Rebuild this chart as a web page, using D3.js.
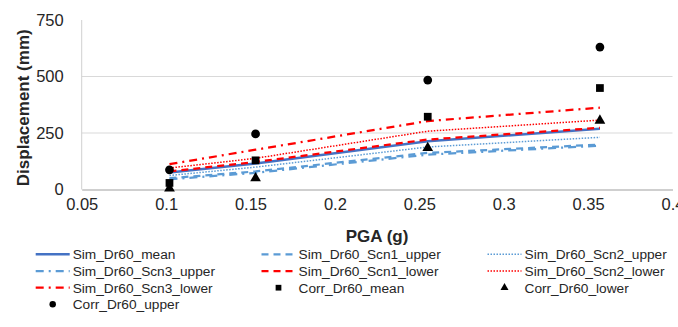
<!DOCTYPE html>
<html>
<head>
<meta charset="utf-8">
<script src="https://cdn.jsdelivr.net/npm/d3@7"></script>
<style>
  html, body { margin: 0; padding: 0; background: #fff; }
  svg { display: block; font-family: "Liberation Sans", Arial, sans-serif; }
</style>
</head>
<body>
<svg id="chart" width="678" height="327"></svg>
<script>
// ---- data ----
const pga = [0.102, 0.153, 0.255, 0.357];
const simMean      = [75, 115, 213, 269];
const simScn1Upper = [50, 80, 162, 199];
const simScn2Upper = [62, 99, 188, 231];
const simScn3Upper = [45, 74, 154, 194];
const simScn1Lower = [80, 122, 221, 273];
const simScn2Lower = [95, 138, 258, 307];
const simScn3Lower = [112, 176, 303, 362];
const corrMean  = [29, 129, 322, 449];
const corrLower = [5, 50, 184, 305];
const corrUpper = [87, 246, 484, 630];
const xTicks = [0.05, 0.1, 0.15, 0.2, 0.25, 0.3, 0.35, 0.4];
const yTicks = [0, 250, 500, 750];

const lineSeries = [
  {name: "Sim_Dr60_mean",       values: simMean,      color: "#4472C4", dash: null,       width: 2.5},
  {name: "Sim_Dr60_Scn1_upper", values: simScn1Upper, color: "#5B9BD5", dash: "7,5",      width: 2.25},
  {name: "Sim_Dr60_Scn2_upper", values: simScn2Upper, color: "#5B9BD5", dash: "1.5,1.5",  width: 1.5},
  {name: "Sim_Dr60_Scn3_upper", values: simScn3Upper, color: "#5B9BD5", dash: "8,5,2,5",  width: 2.25},
  {name: "Sim_Dr60_Scn1_lower", values: simScn1Lower, color: "#FF0000", dash: "7,5",      width: 2.25},
  {name: "Sim_Dr60_Scn2_lower", values: simScn2Lower, color: "#FF0000", dash: "1.5,1.5",  width: 1.5},
  {name: "Sim_Dr60_Scn3_lower", values: simScn3Lower, color: "#FF0000", dash: "8,5,2,5",  width: 2.25}
];
const markerSeries = [
  {name: "Corr_Dr60_mean",  values: corrMean,  symbol: d3.symbolSquare,   size: 60},
  {name: "Corr_Dr60_lower", values: corrLower, symbol: d3.symbolTriangle, size: 50},
  {name: "Corr_Dr60_upper", values: corrUpper, symbol: d3.symbolCircle,   size: 60}
];

// legend order (row-major, 3 columns)
const legendOrder = [
  "Sim_Dr60_mean", "Sim_Dr60_Scn1_upper", "Sim_Dr60_Scn2_upper",
  "Sim_Dr60_Scn3_upper", "Sim_Dr60_Scn1_lower", "Sim_Dr60_Scn2_lower",
  "Sim_Dr60_Scn3_lower", "Corr_Dr60_mean", "Corr_Dr60_lower",
  "Corr_Dr60_upper"
];

// ---- layout ----
const svg = d3.select("#chart");
const plotLeft = 81.7, plotRight = 672.5, plotTop = 20, plotBottom = 189.5;
const x = d3.scaleLinear().domain([0.05, 0.4]).range([plotLeft, plotRight]);
const y = d3.scaleLinear().domain([0, 750]).range([plotBottom, plotTop]);
const textColor = "#262626";

// gridlines
svg.append("g").selectAll("line")
  .data(yTicks.filter(t => t > 0 && t < 750))
  .join("line")
  .attr("x1", plotLeft).attr("x2", plotRight)
  .attr("y1", d => y(d)).attr("y2", d => y(d))
  .attr("stroke", "#D9D9D9").attr("stroke-width", 1);

// y axis line
svg.append("line")
  .attr("x1", plotLeft).attr("x2", plotLeft).attr("y1", plotTop).attr("y2", plotBottom)
  .attr("stroke", "#D0D0D0").attr("stroke-width", 1);

// x axis
const xAxis = d3.axisBottom(x).tickValues(xTicks).tickSize(0).tickPadding(9)
  .tickFormat(d => String(+d.toFixed(2)));
const gx = svg.append("g").attr("transform", `translate(0,${plotBottom})`).call(xAxis);
gx.select(".domain").attr("stroke", "#BFBFBF").attr("stroke-width", 1.5);
gx.selectAll("text").attr("font-size", 16.5).attr("fill", textColor)
  .attr("font-family", "Liberation Sans, Arial, sans-serif");

// y axis labels
const yAxis = d3.axisLeft(y).tickValues(yTicks).tickSize(0).tickPadding(18)
  .tickFormat(d3.format("d"));
const gy = svg.append("g").attr("transform", `translate(${plotLeft},0)`).call(yAxis);
gy.select(".domain").remove();
gy.selectAll("text").attr("font-size", 16.5).attr("fill", textColor)
  .attr("font-family", "Liberation Sans, Arial, sans-serif");

// axis titles
svg.append("text")
  .attr("x", (plotLeft + plotRight) / 2).attr("y", 242)
  .attr("text-anchor", "middle").attr("font-size", 17).attr("font-weight", "bold")
  .attr("fill", textColor).text("PGA (g)");
svg.append("text")
  .attr("transform", `translate(29,${(plotTop + plotBottom) / 2 + 3}) rotate(-90)`)
  .attr("text-anchor", "middle").attr("font-size", 17).attr("font-weight", "bold")
  .attr("fill", textColor).text("Displacement (mm)");

// lines
const lineGen = d3.line().x((d, i) => x(pga[i])).y(d => y(d));
const linesG = svg.append("g");
lineSeries.forEach(s => {
  linesG.append("path")
    .attr("d", lineGen(s.values))
    .attr("fill", "none")
    .attr("stroke", s.color)
    .attr("stroke-width", s.width)
    .attr("stroke-dasharray", s.dash);
});

// markers
const markG = svg.append("g");
markerSeries.forEach(s => {
  markG.selectAll(null).data(s.values).join("path")
    .attr("transform", (d, i) => `translate(${x(pga[i])},${y(d)})`)
    .attr("d", d3.symbol().type(s.symbol).size(s.size))
    .attr("fill", "#000");
});

// legend
const colText = [72.7, 298.5, 524.5];
const rowY = [254.3, 271, 287.7, 304.3];
const legG = svg.append("g");
legendOrder.forEach((name, idx) => {
  const col = idx % 3, row = Math.floor(idx / 3);
  const tx = colText[col], cy = rowY[row];
  const ls = lineSeries.find(s => s.name === name);
  const ms = markerSeries.find(s => s.name === name);
  if (ls) {
    legG.append("line")
      .attr("x1", tx - 37).attr("x2", tx - 3)
      .attr("y1", cy).attr("y2", cy)
      .attr("stroke", ls.color).attr("stroke-width", ls.width)
      .attr("stroke-dasharray", ls.dash);
  }
  if (ms) {
    legG.append("path")
      .attr("transform", `translate(${tx - 20},${cy})`)
      .attr("d", d3.symbol().type(ms.symbol).size(ms.size * 0.55))
      .attr("fill", "#000");
  }
  legG.append("text")
    .attr("x", tx).attr("y", cy + 5)
    .attr("font-size", 13.7).attr("fill", textColor)
    .text(name);
});
</script>
</body>
</html>
